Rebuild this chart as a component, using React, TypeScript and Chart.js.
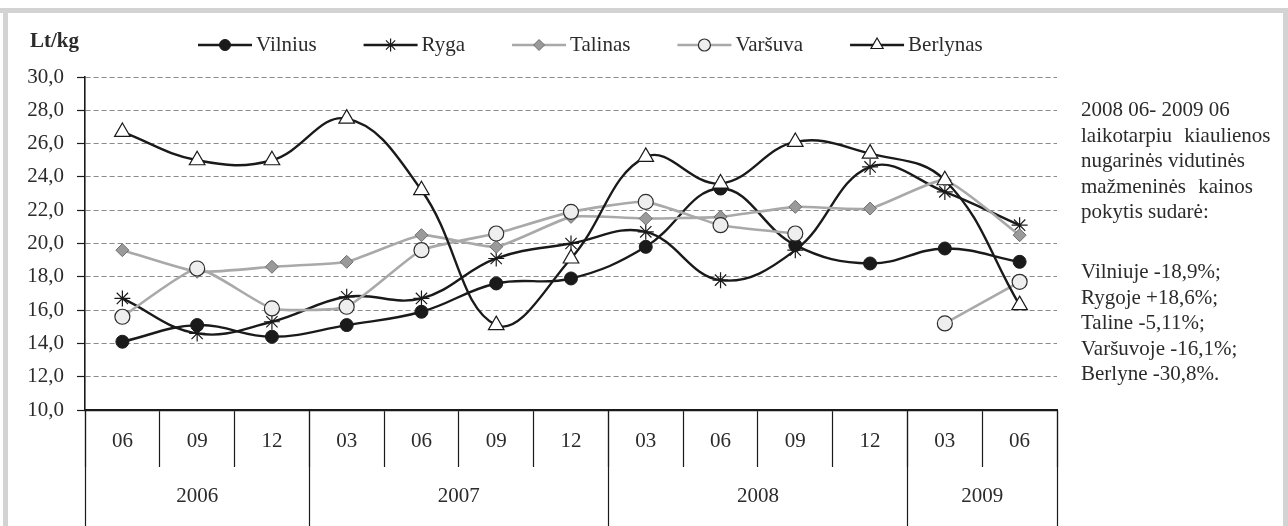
import React, { useEffect, useRef } from 'react';
import { Chart, registerables } from 'chart.js';
import { drawPoint } from 'chart.js/helpers';

Chart.register(...registerables);

const monthLabels = ['06', '09', '12', '03', '06', '09', '12', '03', '06', '09', '12', '03', '06'];
const yearLabels = ['2006', '2007', '2008', '2009'];
const yearMonthCounts = [3, 4, 4, 2];

const vilnius = [14.1, 15.1, 14.4, 15.1, 15.9, 17.6, 17.9, 19.8, 23.3, 19.9, 18.8, 19.7, 18.9];
const ryga = [16.7, 14.6, 15.3, 16.8, 16.7, 19.1, 20.0, 20.7, 17.8, 19.6, 24.6, 23.1, 21.1];
const talinas = [19.6, 18.3, 18.6, 18.9, 20.5, 19.8, 21.6, 21.5, 21.6, 22.2, 22.1, 23.8, 20.5];
const varsuva = [15.6, 18.5, 16.1, 16.2, 19.6, 20.6, 21.9, 22.5, 21.1, 20.6, null, 15.2, 17.7];
const berlynas = [26.7, 25.0, 25.0, 27.5, 23.2, 15.1, 19.1, 25.2, 23.6, 26.1, 25.4, 23.8, 16.3];

const seriesNames = ['Vilnius', 'Ryga', 'Talinas', 'Varšuva', 'Berlynas'];
const yUnit = 'Lt/kg';
const yMin = 10;
const yMax = 30;
const yStep = 2;

const noteHead = ['2008 06- 2009 06', 'laikotarpiu kiaulienos', 'nugarinės vidutinės', 'mažmeninės kainos', 'pokytis sudarė:'];
const noteValues = ['Vilniuje -18,9%;', 'Rygoje +18,6%;', 'Taline -5,11%;', 'Varšuvoje -16,1%;', 'Berlyne -30,8%.'];

const FONT = '"Liberation Serif", "Times New Roman", serif';
const TEXT = '#2b2b2b';
const DARK = '#1a1a1a';
const GRAY_LINE = '#a9a9a9';

const decorPlugin = {
  id: 'decor',
  afterDraw(chart: any) {
    const { ctx, chartArea } = chart;
    const x = chart.scales.x;
    ctx.save();
    // unit label
    ctx.font = `bold 21px ${FONT}`;
    ctx.fillStyle = TEXT;
    ctx.textAlign = 'left';
    ctx.textBaseline = 'middle';
    ctx.fillText(yUnit, 30, 42);

    // year group separators and labels
    const n = monthLabels.length;
    const w = (x.right - x.left) / n;
    ctx.strokeStyle = DARK;
    ctx.lineWidth = 1.2;
    ctx.font = `21px ${FONT}`;
    ctx.textAlign = 'center';
    let idx = 0;
    for (let g = 0; g < yearLabels.length; g++) {
      const start = idx;
      const end = idx + yearMonthCounts[g] - 1;
      const l = x.getPixelForValue(start) - w / 2;
      const r = x.getPixelForValue(end) + w / 2;
      ctx.beginPath();
      ctx.moveTo(Math.round(l) + 0.5, chartArea.bottom);
      ctx.lineTo(Math.round(l) + 0.5, chart.height);
      ctx.stroke();
      if (g === yearLabels.length - 1) {
        ctx.beginPath();
        ctx.moveTo(Math.round(r) + 0.5, chartArea.bottom);
        ctx.lineTo(Math.round(r) + 0.5, chart.height);
        ctx.stroke();
      }
      ctx.fillText(yearLabels[g], (l + r) / 2, chartArea.bottom + 86);
      idx += yearMonthCounts[g];
    }

    // legend
    const ly = 45;
    let lx = 198;
    ctx.font = `21px ${FONT}`;
    ctx.textAlign = 'left';
    chart.data.datasets.forEach((ds: any) => {
      ctx.strokeStyle = ds.borderColor;
      ctx.lineWidth = ds.borderWidth;
      ctx.beginPath();
      ctx.moveTo(lx, ly);
      ctx.lineTo(lx + 54, ly);
      ctx.stroke();
      ctx.fillStyle = ds.pointBackgroundColor;
      ctx.strokeStyle = ds.pointBorderColor;
      ctx.lineWidth = ds.pointBorderWidth;
      drawPoint(ctx, { pointStyle: ds.pointStyle, radius: ds.legendRadius, rotation: 0, borderWidth: ds.pointBorderWidth }, lx + 27, ly);
      ctx.fillStyle = TEXT;
      ctx.fillText(ds.label, lx + 58, ly);
      lx += 58 + ctx.measureText(ds.label).width + 47;
    });
    ctx.restore();
  },
};

export default function App() {
  const canvasRef = useRef<HTMLCanvasElement | null>(null);

  useEffect(() => {
    document.body.style.margin = '0';
    const canvas = canvasRef.current;
    if (!canvas) return;
    const chart = new Chart(canvas, {
      type: 'line',
      data: {
        labels: monthLabels,
        datasets: [
          {
            label: seriesNames[0],
            data: vilnius,
            borderColor: DARK,
            borderWidth: 2.4,
            tension: 0.4,
            pointStyle: 'circle',
            pointRadius: 6.5,
            legendRadius: 5.5,
            pointBackgroundColor: DARK,
            pointBorderColor: DARK,
            pointBorderWidth: 1,
            order: 4,
          } as any,
          {
            label: seriesNames[1],
            data: ryga,
            borderColor: DARK,
            borderWidth: 2.4,
            tension: 0.4,
            pointStyle: 'star',
            pointRadius: 8,
            legendRadius: 6.5,
            pointBackgroundColor: DARK,
            pointBorderColor: DARK,
            pointBorderWidth: 1.2,
            order: 3,
          },
          {
            label: seriesNames[2],
            data: talinas,
            borderColor: GRAY_LINE,
            borderWidth: 2.6,
            tension: 0.15,
            pointStyle: 'rectRot',
            pointRadius: 6.5,
            legendRadius: 5.5,
            pointBackgroundColor: '#9a9a9a',
            pointBorderColor: '#6e6e6e',
            pointBorderWidth: 1,
            order: 2,
          },
          {
            label: seriesNames[3],
            data: varsuva,
            borderColor: GRAY_LINE,
            borderWidth: 2.6,
            tension: 0.15,
            spanGaps: false,
            pointStyle: 'circle',
            pointRadius: 7.5,
            legendRadius: 6,
            pointBackgroundColor: '#eeeeee',
            pointBorderColor: '#2e2e2e',
            pointBorderWidth: 1.2,
            order: 1,
          },
          {
            label: seriesNames[4],
            data: berlynas,
            borderColor: DARK,
            borderWidth: 2.4,
            tension: 0.4,
            pointStyle: 'triangle',
            pointRadius: 9,
            legendRadius: 7,
            pointBackgroundColor: '#ffffff',
            pointBorderColor: DARK,
            pointBorderWidth: 1.2,
            order: 0,
          },
        ],
      },
      options: {
        responsive: false,
        animation: false,
        devicePixelRatio: 1,
        layout: { padding: { left: 0, right: 231, top: 77, bottom: 0 } },
        plugins: {
          legend: { display: false },
          tooltip: { enabled: false },
          title: { display: false },
        },
        scales: {
          x: {
            type: 'category',
            offset: true,
            grid: {
              offset: true,
              drawOnChartArea: false,
              drawTicks: true,
              tickLength: 57,
              tickColor: DARK,
              tickWidth: 1.2,
              color: DARK,
            },
            border: { display: true, color: DARK, width: 2.2 },
            ticks: {
              autoSkip: false,
              maxRotation: 0,
              minRotation: 0,
              padding: -38,
              color: TEXT,
              font: { family: FONT, size: 21 },
            },
            afterFit: (scale: any) => {
              scale.height = 116;
            },
          },
          y: {
            min: yMin,
            max: yMax,
            ticks: {
              stepSize: yStep,
              padding: 13,
              color: TEXT,
              font: { family: FONT, size: 21 },
              callback: (v: any) => Number(v).toFixed(1).replace('.', ','),
            },
            grid: {
              color: '#8a8a8a',
              lineWidth: 1,
              drawTicks: true,
              tickLength: 8,
              tickColor: DARK,
              tickWidth: 1.2,
            },
            border: { display: true, color: DARK, width: 1.6, dash: [5, 3] },
            afterFit: (scale: any) => {
              scale.width = 85;
            },
          },
        },
      },
      plugins: [decorPlugin],
    });
    return () => chart.destroy();
  }, []);

  const lineStyle = (spaced: boolean): React.CSSProperties => ({
    height: 25.6,
    lineHeight: '25.6px',
    whiteSpace: 'nowrap',
    wordSpacing: spaced ? '7px' : 'normal',
  });

  return (
    <div style={{ position: 'relative', width: 1288, height: 526, background: '#ffffff', overflow: 'hidden' }}>
      <div style={{ position: 'absolute', left: 0, top: 8, width: 1288, height: 5, background: '#d3d3d3' }} />
      <div style={{ position: 'absolute', left: 3, top: 13, width: 5, height: 513, background: '#d3d3d3' }} />
      <div style={{ position: 'absolute', left: 1283, top: 13, width: 5, height: 513, background: '#d3d3d3' }} />
      <canvas ref={canvasRef} width={1288} height={526} style={{ position: 'absolute', left: 0, top: 0 }} />
      <div style={{ position: 'absolute', left: 1081, top: 97, fontFamily: FONT, fontSize: 21, color: TEXT }}>
        {noteHead.map((t, i) => (
          <div key={i} style={lineStyle(i === 1 || i === 3)}>{t}</div>
        ))}
      </div>
      <div style={{ position: 'absolute', left: 1081, top: 259, fontFamily: FONT, fontSize: 21, color: TEXT }}>
        {noteValues.map((t, i) => (
          <div key={i} style={lineStyle(false)}>{t}</div>
        ))}
      </div>
    </div>
  );
}
